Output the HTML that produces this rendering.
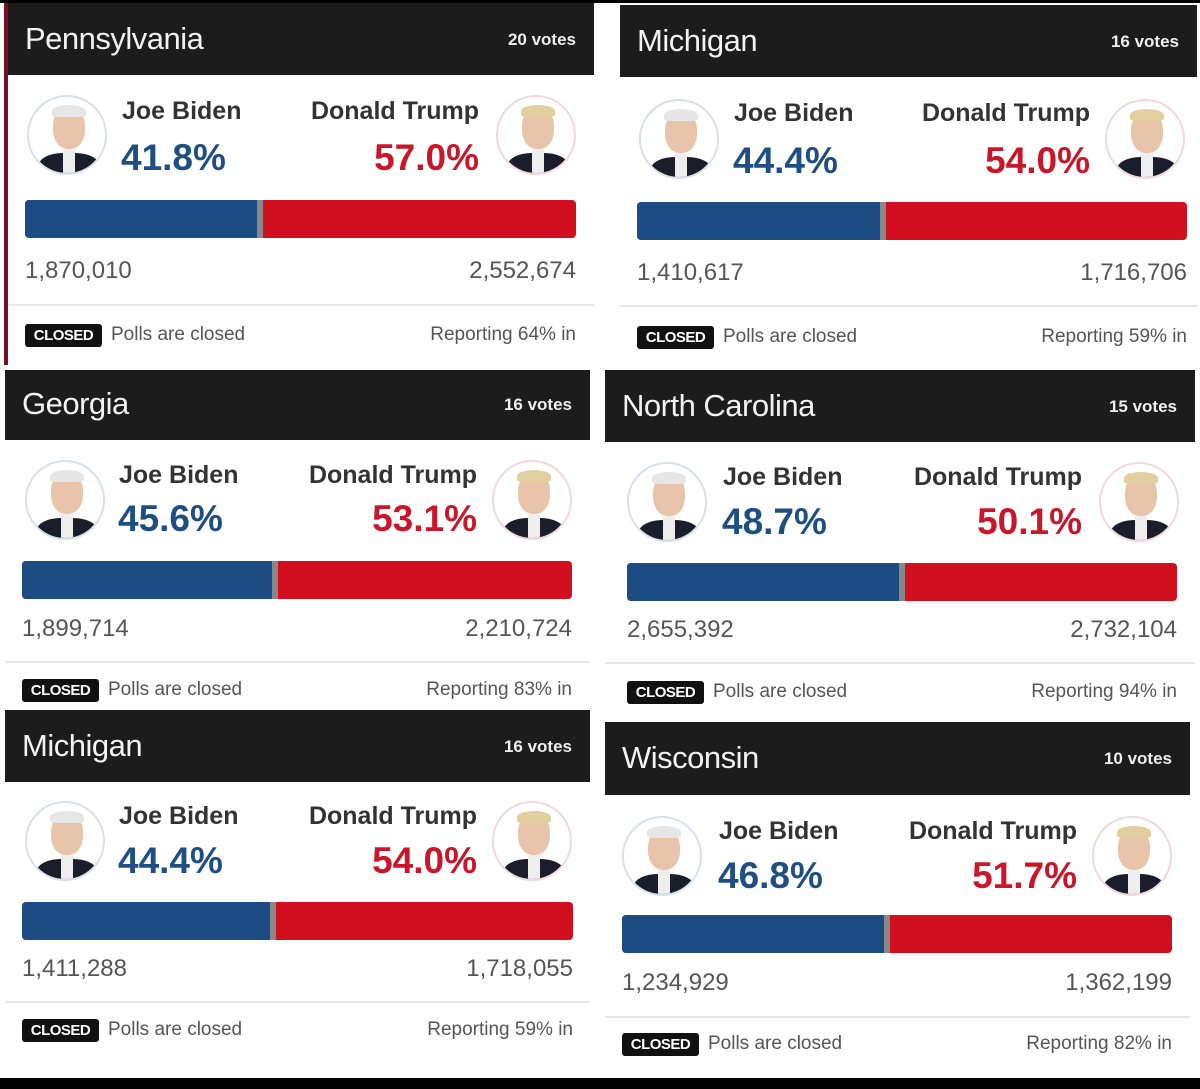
<!DOCTYPE html>
<html><head><meta charset="utf-8"><style>
*{margin:0;padding:0;box-sizing:border-box}
body{width:1200px;height:1089px;background:#fff;position:relative;overflow:hidden;font-family:"Liberation Sans",Arial,sans-serif}
.c{position:absolute;background:#fff;overflow:hidden}
.h{position:absolute;left:0;top:0;right:0;height:72px;background:#1c1c1c}
.st{position:absolute;left:17px;top:18px;color:#f2f2f2;font-size:31px;letter-spacing:-0.5px}
.vt{position:absolute;right:18px;top:27px;color:#eee;font-size:17px;font-weight:bold}
.av{position:absolute;width:80px;height:80px;border-radius:50%;border:2px solid #d8e0e8;background:#fff;overflow:hidden}
.av.t{border-color:#f0d8dc}
.av .f{position:absolute;left:24px;top:10px;width:32px;height:42px;border-radius:45%;background:#e8c4aa}
.av .hr{position:absolute;left:23px;top:8px;width:34px;height:12px;border-radius:50% 50% 20% 20%;background:#e6e6e6}
.av.t .hr{background:#e2cfa0}
.av .s{position:absolute;left:10px;top:56px;width:60px;height:30px;border-radius:40% 40% 0 0;background:#1a1e2a}
.av .sh{position:absolute;left:34px;top:52px;width:12px;height:26px;background:#eee}
.nm{position:absolute;font-size:25px;font-weight:bold;color:#333}
.pc{position:absolute;font-size:37px;font-weight:bold}
.b{color:#1f4f82}.r{color:#c8172b}
.bar{position:absolute;height:38px;border-radius:4px;overflow:hidden;background:#d20f1f;display:flex}
.bar .bl{background:#1d4c85;height:100%}
.bar .g{background:#888;width:6px;height:100%}
.n{position:absolute;font-size:24px;color:#555}
.dv{position:absolute;left:0;right:0;height:2px;background:#e4e8ec}
.cl{position:absolute;left:17px;height:23px;width:77px;background:#111;color:#fff;font-size:15px;font-weight:bold;line-height:23px;text-align:center;border-radius:3px;letter-spacing:-0.5px}
.pt{position:absolute;font-size:19px;color:#555}
</style></head><body>
<div style="position:absolute;left:0;top:1078px;width:1200px;height:11px;background:#000"></div>
<div style="position:absolute;left:0;top:0;width:1200px;height:3px;background:#000"></div>
<div style="position:absolute;left:4px;top:3px;width:5px;height:362px;background:#7a1020"></div>

<!-- card template positions via inline tops -->
<div class="c" style="left:8px;top:3px;width:586px;height:362px">
<div class="h"><div class="st">Pennsylvania</div><div class="vt">20 votes</div></div>
<div class="av" style="left:19px;top:92px"><div class="s"></div><div class="sh"></div><div class="f"></div><div class="hr"></div></div>
<div class="av t" style="right:18px;top:92px"><div class="s"></div><div class="sh"></div><div class="f"></div><div class="hr"></div></div>
<div class="nm" style="left:114px;top:94px">Joe Biden</div>
<div class="nm" style="right:115px;top:94px">Donald Trump</div>
<div class="pc b" style="left:113px;top:134px">41.8%</div>
<div class="pc r" style="right:115px;top:134px">57.0%</div>
<div class="bar" style="left:17px;right:18px;top:197px"><div class="bl" style="width:232px"></div><div class="g"></div></div>
<div class="n" style="left:17px;top:254px">1,870,010</div>
<div class="n" style="right:18px;top:254px">2,552,674</div>
<div class="dv" style="top:301px"></div>
<div class="cl" style="top:321px">CLOSED</div>
<div class="pt" style="left:103px;top:321px">Polls are closed</div>
<div class="pt" style="right:18px;top:321px">Reporting 64% in</div>
</div>

<div class="c" style="left:620px;top:5px;width:577px;height:363px">
<div class="h"><div class="st">Michigan</div><div class="vt">16 votes</div></div>
<div class="av" style="left:19px;top:94px"><div class="s"></div><div class="sh"></div><div class="f"></div><div class="hr"></div></div>
<div class="av t" style="right:12px;top:94px"><div class="s"></div><div class="sh"></div><div class="f"></div><div class="hr"></div></div>
<div class="nm" style="left:114px;top:94px">Joe Biden</div>
<div class="nm" style="right:107px;top:94px">Donald Trump</div>
<div class="pc b" style="left:113px;top:135px">44.4%</div>
<div class="pc r" style="right:107px;top:135px">54.0%</div>
<div class="bar" style="left:17px;right:10px;top:197px"><div class="bl" style="width:243px"></div><div class="g"></div></div>
<div class="n" style="left:17px;top:254px">1,410,617</div>
<div class="n" style="right:10px;top:254px">1,716,706</div>
<div class="dv" style="top:300px"></div>
<div class="cl" style="top:321px">CLOSED</div>
<div class="pt" style="left:103px;top:321px">Polls are closed</div>
<div class="pt" style="right:10px;top:321px">Reporting 59% in</div>
</div>

<div class="c" style="left:5px;top:370px;width:585px;height:335px">
<div class="h" style="height:70px"><div class="st" style="top:16px">Georgia</div><div class="vt" style="top:25px">16 votes</div></div>
<div class="av" style="left:20px;top:90px"><div class="s"></div><div class="sh"></div><div class="f"></div><div class="hr"></div></div>
<div class="av t" style="right:18px;top:90px"><div class="s"></div><div class="sh"></div><div class="f"></div><div class="hr"></div></div>
<div class="nm" style="left:114px;top:91px">Joe Biden</div>
<div class="nm" style="right:113px;top:91px">Donald Trump</div>
<div class="pc b" style="left:113px;top:128px">45.6%</div>
<div class="pc r" style="right:113px;top:128px">53.1%</div>
<div class="bar" style="left:17px;right:18px;top:191px"><div class="bl" style="width:250px"></div><div class="g"></div></div>
<div class="n" style="left:17px;top:245px">1,899,714</div>
<div class="n" style="right:18px;top:245px">2,210,724</div>
<div class="dv" style="top:291px"></div>
<div class="cl" style="top:309px">CLOSED</div>
<div class="pt" style="left:103px;top:309px">Polls are closed</div>
<div class="pt" style="right:18px;top:309px">Reporting 83% in</div>
</div>

<div class="c" style="left:605px;top:370px;width:590px;height:340px">
<div class="h"><div class="st">North Carolina</div><div class="vt">15 votes</div></div>
<div class="av" style="left:22px;top:92px"><div class="s"></div><div class="sh"></div><div class="f"></div><div class="hr"></div></div>
<div class="av t" style="right:16px;top:92px"><div class="s"></div><div class="sh"></div><div class="f"></div><div class="hr"></div></div>
<div class="nm" style="left:118px;top:93px">Joe Biden</div>
<div class="nm" style="right:113px;top:93px">Donald Trump</div>
<div class="pc b" style="left:117px;top:131px">48.7%</div>
<div class="pc r" style="right:113px;top:131px">50.1%</div>
<div class="bar" style="left:22px;right:18px;top:193px"><div class="bl" style="width:272px"></div><div class="g"></div></div>
<div class="n" style="left:22px;top:246px">2,655,392</div>
<div class="n" style="right:18px;top:246px">2,732,104</div>
<div class="dv" style="top:292px"></div>
<div class="cl" style="left:22px;top:311px">CLOSED</div>
<div class="pt" style="left:108px;top:311px">Polls are closed</div>
<div class="pt" style="right:18px;top:311px">Reporting 94% in</div>
</div>

<div class="c" style="left:5px;top:710px;width:585px;height:365px">
<div class="h"><div class="st">Michigan</div><div class="vt">16 votes</div></div>
<div class="av" style="left:20px;top:91px"><div class="s"></div><div class="sh"></div><div class="f"></div><div class="hr"></div></div>
<div class="av t" style="right:18px;top:91px"><div class="s"></div><div class="sh"></div><div class="f"></div><div class="hr"></div></div>
<div class="nm" style="left:114px;top:92px">Joe Biden</div>
<div class="nm" style="right:113px;top:92px">Donald Trump</div>
<div class="pc b" style="left:113px;top:130px">44.4%</div>
<div class="pc r" style="right:113px;top:130px">54.0%</div>
<div class="bar" style="left:17px;right:17px;top:192px"><div class="bl" style="width:248px"></div><div class="g"></div></div>
<div class="n" style="left:17px;top:245px">1,411,288</div>
<div class="n" style="right:17px;top:245px">1,718,055</div>
<div class="dv" style="top:291px"></div>
<div class="cl" style="top:309px">CLOSED</div>
<div class="pt" style="left:103px;top:309px">Polls are closed</div>
<div class="pt" style="right:17px;top:309px">Reporting 59% in</div>
</div>

<div class="c" style="left:605px;top:722px;width:585px;height:353px">
<div class="h" style="height:73px"><div class="st">Wisconsin</div><div class="vt">10 votes</div></div>
<div class="av" style="left:17px;top:94px"><div class="s"></div><div class="sh"></div><div class="f"></div><div class="hr"></div></div>
<div class="av t" style="right:18px;top:94px"><div class="s"></div><div class="sh"></div><div class="f"></div><div class="hr"></div></div>
<div class="nm" style="left:114px;top:95px">Joe Biden</div>
<div class="nm" style="right:113px;top:95px">Donald Trump</div>
<div class="pc b" style="left:113px;top:133px">46.8%</div>
<div class="pc r" style="right:113px;top:133px">51.7%</div>
<div class="bar" style="left:17px;right:18px;top:193px"><div class="bl" style="width:262px"></div><div class="g"></div></div>
<div class="n" style="left:17px;top:247px">1,234,929</div>
<div class="n" style="right:18px;top:247px">1,362,199</div>
<div class="dv" style="top:294px"></div>
<div class="cl" style="top:311px">CLOSED</div>
<div class="pt" style="left:103px;top:311px">Polls are closed</div>
<div class="pt" style="right:18px;top:311px">Reporting 82% in</div>
</div>
</body></html>
